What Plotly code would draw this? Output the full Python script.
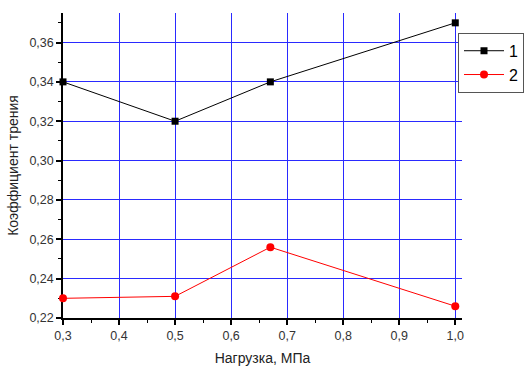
import plotly.graph_objects as go

x_load = [0.3, 0.5, 0.67, 1.0]
series1 = [0.34, 0.32, 0.34, 0.37]
series2 = [0.230, 0.231, 0.256, 0.226]
x_ticks = [0.3, 0.4, 0.5, 0.6, 0.7, 0.8, 0.9, 1.0]
y_ticks = [0.22, 0.24, 0.26, 0.28, 0.30, 0.32, 0.34, 0.36]

fig = go.Figure()
fig.add_trace(go.Scatter(x=x_load, y=series1, mode="lines+markers", name="1",
                         line=dict(color="black", width=1),
                         marker=dict(symbol="square", size=7, color="black"),
                         cliponaxis=False))
fig.add_trace(go.Scatter(x=x_load, y=series2, mode="lines+markers", name="2",
                         line=dict(color="red", width=1),
                         marker=dict(symbol="circle", size=8, color="red"),
                         cliponaxis=False))

axis_common = dict(showline=True, linecolor="black", linewidth=1.5,
                   ticks="outside", ticklen=5, tickcolor="black", tickwidth=1.5,
                   showgrid=True, gridcolor="#2a2aff", gridwidth=1,
                   zeroline=False, mirror=False, automargin=False, layer="below traces",
                   tickfont=dict(family="Arial, Liberation Sans", size=12.5, color="#333333"),
                   title_font=dict(family="Arial, Liberation Sans", size=14, color="#222222"))

fig.update_xaxes(**axis_common, range=[0.3, 1.012], tickvals=x_ticks, tickformat=".1f",
                 minor=dict(ticks="outside", ticklen=3, tickcolor="black", tickwidth=1,
                            dtick=0.05, tick0=0.3, showgrid=False),
                 title=dict(text="Нагрузка, МПа", standoff=12))
fig.update_yaxes(**axis_common, range=[0.22, 0.375], tickvals=y_ticks, tickformat=".2f",
                 minor=dict(ticks="outside", ticklen=3, tickcolor="black", tickwidth=1,
                            dtick=0.01, tick0=0.22, showgrid=False),
                 title=dict(text="Коэффициент трения", standoff=8))

fig.update_layout(
    width=524, height=366,
    margin=dict(l=63, r=62, t=13, b=48, autoexpand=False),
    plot_bgcolor="white", paper_bgcolor="white",
    separators=", ",
    legend=dict(x=0.99, y=0.935, xanchor="left", yanchor="top",
                bordercolor="#555555", borderwidth=1, bgcolor="white",
                font=dict(family="Arial, Liberation Sans", size=16, color="black"),
                itemwidth=40, tracegroupgap=0),
)

fig.write_html("out.html", config={"displayModeBar": False},
               post_script="document.body.style.margin='0';document.body.style.overflow='hidden';")
